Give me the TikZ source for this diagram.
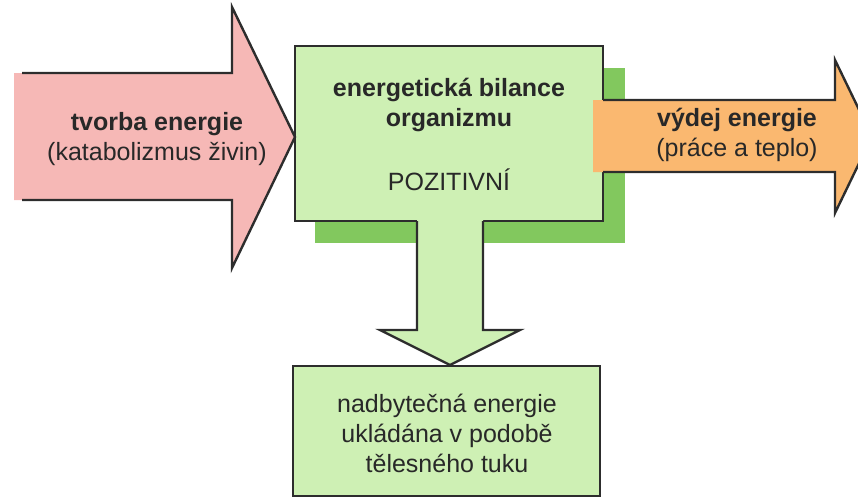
\documentclass[tikz,border=0pt]{standalone}
\usepackage{fontspec}
\setmainfont{Liberation Sans}
\definecolor{inflow}{RGB}{246,184,182}
\definecolor{outflow}{RGB}{250,184,112}
\definecolor{boxgreen}{RGB}{206,240,180}
\definecolor{shadowgreen}{RGB}{130,200,94}
\definecolor{edge}{RGB}{45,45,45}
\definecolor{ink}{RGB}{40,40,40}
\begin{document}
\begin{tikzpicture}[x=1pt,y=-1pt,line join=miter,
  outline/.style={draw=edge,line width=2.4pt},
  caption/.style={text=ink,font=\fontsize{25}{30}\selectfont,align=center,inner sep=0pt}]
\useasboundingbox (0,0) rectangle (858,499);

% drop shadow behind the balance box
\fill[shadowgreen] (315,68) rectangle (625,243);

% central balance box
\draw[outline,fill=boxgreen] (295,46) rectangle (603,221);

% incoming arrow (energy production)
\fill[inflow] (14,73) -- (232,73) -- (232,7) -- (295,137) -- (232,268) -- (232,200) -- (14,200) -- cycle;
\draw[outline] (22,73) -- (232,73) -- (232,7) -- (295,137) -- (232,268) -- (232,200) -- (22,200);

% downward arrow to the storage box
\fill[boxgreen] (417,218) -- (417,330) -- (380,330) -- (450,365) -- (520,330) -- (483,330) -- (483,218) -- cycle;
\draw[outline] (417,221) -- (417,330) -- (380,330) -- (450,365) -- (520,330) -- (483,330) -- (483,221);

% outgoing arrow (energy expenditure)
\fill[outflow] (593,100) -- (835,100) -- (835,60) -- (872,136.5) -- (835,213) -- (835,172) -- (593,172) -- cycle;
\draw[outline] (603,100) -- (835,100) -- (835,60) -- (872,136.5) -- (835,213) -- (835,172) -- (603,172);

% storage box
\draw[outline,fill=boxgreen] (293,366) rectangle (600,496);

% texts
\node (src) [caption] at (157,139) {\textbf{tvorba energie}\\(katabolizmus živin)};
\node (bal) [caption] at (449,105) {\textbf{energetická bilance}\\\textbf{organizmu}};
\node (pos) [caption] at (449,180) {POZITIVNÍ};
\node (out) [caption] at (737,135) {\textbf{výdej energie}\\(práce a teplo)};
\node (fat) [caption] at (447,433) {nadbytečná energie\\ukládána v podobě\\tělesného tuku};
\end{tikzpicture}
\end{document}
